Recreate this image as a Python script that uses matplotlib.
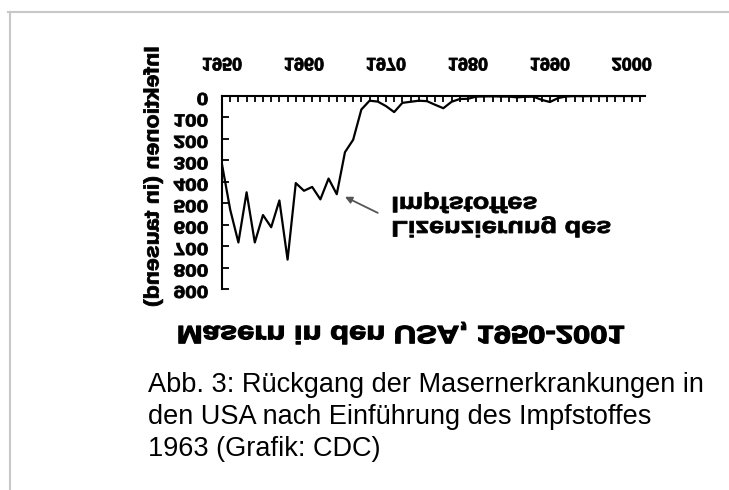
import matplotlib
matplotlib.use('Agg')
import matplotlib.pyplot as plt
from matplotlib.lines import Line2D
from matplotlib.patheffects import AbstractPathEffect
from matplotlib.transforms import Affine2D

# Masern-Faelle in den USA (in tausend), 1950-2001
years = list(range(1950, 2002))
cases = [319, 530, 683, 449, 683, 555, 612, 487, 763, 406,
         442, 424, 482, 385, 458, 262, 204, 63, 22, 26,
         47, 75, 32, 27, 22, 24, 41, 57, 27, 14,
         13, 3, 2, 1.5, 2.6, 2.8, 6.3, 3.7, 3.4, 18,
         28, 9.6, 2.2, 0.3, 1, 0.3, 0.5, 0.1, 0.1, 0.1,
         0.1, 0.1]
xticks = [1950, 1960, 1970, 1980, 1990, 2000]
yticks = [0, 100, 200, 300, 400, 500, 600, 700, 800, 900]

title = 'Masern in den USA, 1950-2001'
ylabel = 'Infektionen (in tausend)'
note = 'Lizenzierung des\nImpfstoffes'
caption = ('Abb. 3: Rückgang der Masernerkrankungen in\n'
           'den USA nach Einführung des Impfstoffes\n'
           '1963 (Grafik: CDC)')


class Flip(AbstractPathEffect):
    """Draws the text upside down (mirrored vertically), a bit wider and
    heavier, like the scanned chart."""
    def __init__(self, text, sx=1.0, stroke=0.6):
        super().__init__()
        self.text = text
        self.sx = sx
        self.stroke = stroke

    def draw_path(self, renderer, gc, tpath, affine, rgbFace=None):
        ext = tpath.get_extents()
        ha = self.text.get_horizontalalignment()
        cx = {'left': ext.x0, 'right': ext.x1}.get(ha, (ext.x0 + ext.x1) / 2)
        stretch = Affine2D().translate(-cx, 0).scale(self.sx, 1).translate(cx, 0)
        bb = self.text.get_window_extent(renderer)
        yc = (bb.y0 + bb.y1) / 2
        flip = Affine2D().translate(0, -yc).scale(1, -1).translate(0, yc)
        gc0 = renderer.new_gc()
        gc0.copy_properties(gc)
        gc0.set_linewidth(self.stroke)
        gc0.set_foreground(rgbFace)
        renderer.draw_path(gc0, tpath, stretch + affine + flip, rgbFace)
        gc0.restore()


plt.rcParams['font.family'] = ['Liberation Sans', 'DejaVu Sans']
plt.rcParams['font.weight'] = 'bold'

W, H = 729, 490
fig = plt.figure(figsize=(W / 100, H / 100), dpi=100)
left, right, top, bottom = 222, 645, 96, 289
ax = fig.add_axes([left / W, 1 - bottom / H, (right - left) / W, (bottom - top) / H])

ax.plot(years, cases, color='black', lw=1.6)
ax.set_xlim(1950, 2001.6)
ax.set_ylim(900, 0)

ax.spines['bottom'].set_visible(False)
ax.spines['right'].set_visible(False)
ax.spines['top'].set_linewidth(1.5)
ax.spines['left'].set_linewidth(1.5)

ax.xaxis.tick_top()
ax.set_xticks(xticks)
ax.set_xticks(years, minor=True)
ax.set_yticks(yticks)
ax.tick_params(axis='x', which='both', direction='in', length=4, width=1.3,
               pad=18, labelsize=13)
ax.tick_params(axis='y', direction='in', length=5, width=1.3, pad=10, labelsize=12.5)

ax.set_ylabel(ylabel, fontsize=15, fontweight='bold')
ax.yaxis.set_label_coords((153 - left) / (right - left), (bottom - 177) / (bottom - top))
ax.yaxis.label.set_verticalalignment('center')
ax.yaxis.label.set_rotation_mode('default')

ax.annotate('', xy=(1965.0, 470), xytext=(1969.0, 545),
            arrowprops=dict(arrowstyle='-|>', color='#555555', lw=1.3,
                            mutation_scale=10, shrinkA=0, shrinkB=0))
t_note = ax.text(1970.7, 553, note, ha='left', va='center', fontsize=16,
                 fontweight='bold', linespacing=1.2)

t_title = fig.text(401 / W, 1 - 333 / H, title, ha='center', va='center',
                   fontsize=18, fontweight='bold')

fig.text(148 / W, 1 - 372 / H, caption, ha='left', va='top', fontsize=19.5,
         fontweight='normal', linespacing=1.31)

# grey frame of the page
fig.add_artist(Line2D([8 / W, 1], [1 - 12 / H, 1 - 12 / H], color='#c8c8c8', lw=1.5))
fig.add_artist(Line2D([10 / W, 10 / W], [0, 1 - 12 / H], color='#c8c8c8', lw=1.5))

fig.canvas.draw()
for lab in ax.get_xticklabels():
    lab.set_path_effects([Flip(lab, 1.0)])
for lab in ax.get_yticklabels():
    lab.set_path_effects([Flip(lab, 1.2)])
ax.yaxis.label.set_path_effects([Flip(ax.yaxis.label, 1.11)])
t_note.set_path_effects([Flip(t_note, 1.22)])
t_title.set_path_effects([Flip(t_title, 1.24, 0.9)])

fig.savefig('out.png', dpi=100)
